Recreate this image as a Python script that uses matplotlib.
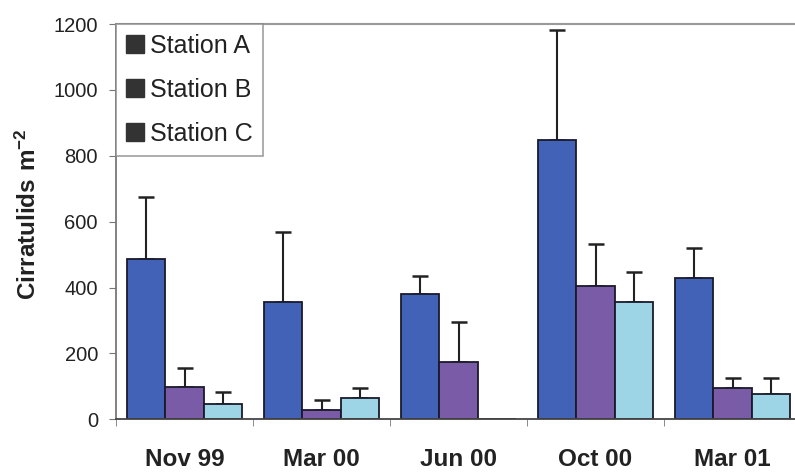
import matplotlib
matplotlib.use("Agg")
import matplotlib.pyplot as plt
import numpy as np
from matplotlib.patches import Patch

categories = ["Nov 99", "Mar 00", "Jun 00", "Oct 00", "Mar 01"]
series = ["Station A", "Station B", "Station C"]
station_a = [486, 357, 380, 848, 428]
station_b = [97, 28, 175, 405, 94]
station_c = [47, 66, 0, 357, 76]
err_a = [189, 211, 56, 334, 92]
err_b = [60, 32, 121, 127, 32]
err_c = [35, 30, 0, 90, 50]
yticks = [0, 200, 400, 600, 800, 1000, 1200]

colors = ["#4262B8", "#7A5BA8", "#9ED5E6"]

plt.rcParams['font.family'] = ['Liberation Sans', 'DejaVu Sans']
plt.rcParams['mathtext.fontset'] = 'custom'
plt.rcParams['mathtext.rm'] = 'Liberation Sans'
plt.rcParams['mathtext.bf'] = 'Liberation Sans:bold'

W, H = 795, 473
fig = plt.figure(figsize=(W / 100, H / 100), dpi=100)
left, right, top, bottom = 116, 801, 24, 419.3
ax = fig.add_axes([left / W, 1 - bottom / H, (right - left) / W, (bottom - top) / H])

x = np.arange(len(categories))
bw = 0.281
vals = [station_a, station_b, station_c]
errs = [err_a, err_b, err_c]
for i, (v, e, c) in enumerate(zip(vals, errs, colors)):
    pos = x + (i - 1) * bw
    ax.bar(pos, v, width=bw, color=c, edgecolor="#1a1a2a", linewidth=1.3, zorder=2)
    mask = [ee > 0 for ee in e]
    p = [pp for pp, m in zip(pos, mask) if m]
    vv = [a for a, m in zip(v, mask) if m]
    ee = [a for a, m in zip(e, mask) if m]
    ax.errorbar(p, vv, yerr=[[0] * len(ee), ee], fmt="none", ecolor="#222222",
                elinewidth=1.5, capsize=6, capthick=1.8, zorder=1)

ax.set_xlim(-0.5, 4.5)
ax.set_ylim(0, 1200)
ax.set_yticks(yticks)
ax.set_yticklabels([str(t) for t in yticks], fontsize=14.5, color="#222222")
ax.set_xticks(x)
ax.set_xticklabels(categories, fontsize=17.5, fontweight="bold", color="#222222")
ax.set_xticks(np.arange(-0.5, 5.0, 1.0), minor=True)
ax.tick_params(axis="x", which="major", length=0, pad=21)
ax.tick_params(axis="x", which="minor", length=5, color="#777777", direction="out")
ax.tick_params(axis="y", length=5, color="#777777", pad=8, direction="out")

ax.spines["right"].set_visible(False)
ax.spines["top"].set_color("#999999")
ax.spines["top"].set_linewidth(1.5)
ax.spines["left"].set_color("#777777")
ax.spines["left"].set_linewidth(1.3)
ax.spines["bottom"].set_color("#444444")
ax.spines["bottom"].set_linewidth(1.3)

ax.set_ylabel(r"$\mathbf{Cirratulids\ m^{-2}}$", fontsize=17.5, color="#222222")
ax.yaxis.set_label_coords(-0.109, 0.52)

handles = [Patch(facecolor="#333333", edgecolor="#333333") for _ in series]
leg = ax.legend(handles, series, loc="upper left", bbox_to_anchor=(0, 1),
                borderaxespad=0, fontsize=18, frameon=True, fancybox=False,
                handlelength=0.7, handleheight=0.7, handletextpad=0.25,
                labelspacing=0.8, borderpad=0.4)
leg.get_frame().set_edgecolor("#888888")
leg.get_frame().set_linewidth(1.2)
for t in leg.get_texts():
    t.set_color("#222222")

fig.savefig("out.png", dpi=100)
